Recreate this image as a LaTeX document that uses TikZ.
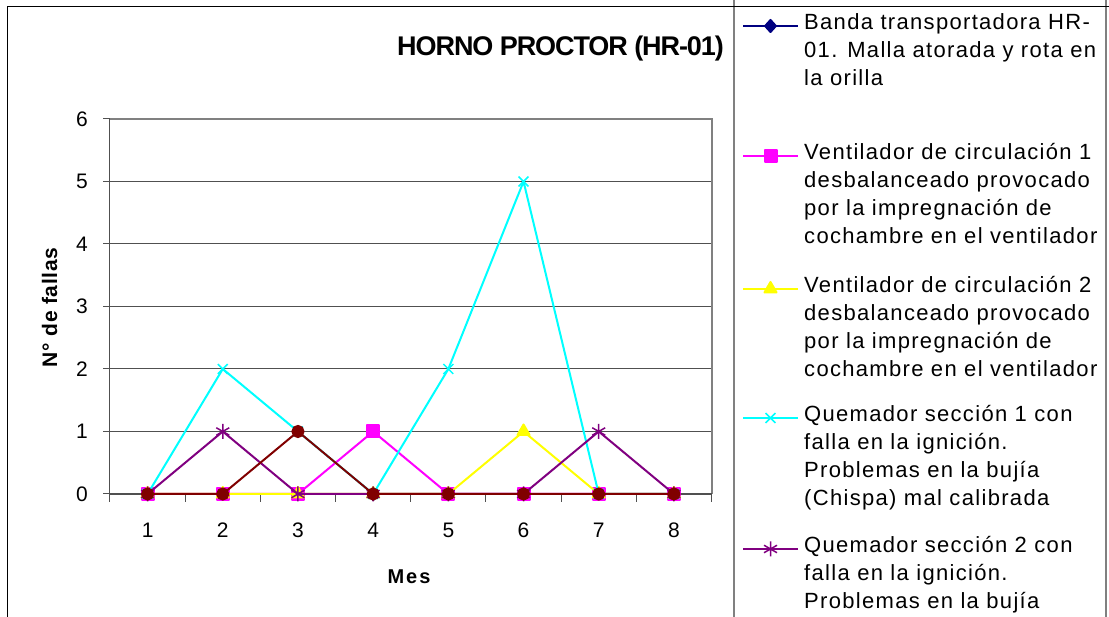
\documentclass[tikz,border=0pt]{standalone}
\usepackage{fontspec}
\setmainfont{Liberation Sans}[LetterSpace=10]
\newfontfamily\leyfont{Liberation Sans}[LetterSpace=6]
\newfontfamily\ejefont{Liberation Sans}[LetterSpace=3]
\newfontfamily\titlefont{Liberation Sans}[LetterSpace=-4]
\usetikzlibrary{plotmarks}
\definecolor{navy}{RGB}{0,0,128}
\definecolor{darkred}{RGB}{128,0,0}
\definecolor{purp}{RGB}{128,0,128}
\definecolor{fucsia}{RGB}{255,0,255}
\definecolor{amarillo}{RGB}{255,255,0}
\definecolor{turquesa}{RGB}{0,255,255}
\definecolor{gridgray}{RGB}{80,80,80}
\definecolor{boxgray}{RGB}{128,128,128}
\tikzset{
  serie/.style={line width=2pt, line join=round},
  banda/.style={serie, navy, mark=diamond*, mark size=6pt, mark options={xscale=1.2, fill=navy}},
  vent1/.style={serie, fucsia, mark=square*, mark size=6pt, mark options={fill=fucsia}},
  vent2/.style={serie, amarillo, mark=triangle*, mark size=7pt, mark options={fill=amarillo}},
  quem1/.style={serie, turquesa, mark=x, mark size=7pt, mark options={line width=1.5pt}},
  quem2/.style={serie, purp, mark=asterisk, mark size=7.5pt, mark options={line width=1.5pt}},
  otro/.style={serie, darkred, mark=*, mark size=5.6pt, mark options={fill=darkred}},
  leyenda/.style={anchor=base west, align=left, inner sep=0pt, font=\leyfont\fontsize{22}{28}\selectfont},
  etiq/.style={inner sep=0pt, font=\fontsize{21}{25}\selectfont}
}
\begin{document}
\begin{tikzpicture}[x=1pt,y=1pt]
\useasboundingbox (0,0) rectangle (1109,617);
\clip (0,0) rectangle (1109,617);
% legend frame
\draw[boxgray, line width=1.5pt] (734,640) -- (734,-20) (1106,640) -- (1106,-20);
% chart frame
\draw[black, line width=1pt] (7.3,-20) -- (7.3,610.3) -- (1130,610.3);
\node[anchor=base east, inner sep=0pt, font=\titlefont\bfseries\fontsize{27}{32}\selectfont] (titulo) at (724,561.5) {HORNO PROCTOR (HR-01)};
% plot area, one unit = one month / one failure
\begin{scope}[shift={(72.4,123)}, x=75.19pt, y=62.5pt]
\foreach \k in {1,...,5}
  \draw[gridgray, line width=1pt] (0.5,\k) -- (8.5,\k);
\draw[boxgray, line width=2pt] (0.5,6) -- (8.5,6) -- (8.5,0);
\draw[gridgray, line width=1pt] (0.5,0) -- (0.5,6);
\foreach \k in {0,...,6} {
  \draw[gridgray, line width=1pt] (0.5,\k) -- ++(-7pt,0);
  \node[etiq, anchor=east, xshift=-22pt] (y\k) at (0.5,\k) {\k};
}
\foreach \m in {0,...,8}
  \draw[gridgray, line width=1pt] (\m+0.5,0) -- ++(0,-8pt);
\foreach \m in {1,...,8}
  \node[etiq, yshift=-36pt] (x\m) at (\m,0) {\m};
\draw[gridgray, line width=2pt] (0.5,0) -- (8.5,0);
% series
\draw[banda] plot coordinates {(1,0) (2,0) (3,0) (4,0) (5,0) (6,0) (7,0) (8,0)};
\draw[vent1] plot coordinates {(1,0) (2,0) (3,0) (4,1) (5,0) (6,0) (7,0) (8,0)};
\draw[vent2] plot coordinates {(1,0) (2,0) (3,0) (4,0) (5,0) (6,1) (7,0) (8,0)};
\draw[quem1] plot coordinates {(1,0) (2,2) (3,1) (4,0) (5,2) (6,5) (7,0) (8,0)};
\draw[quem2] plot coordinates {(1,0) (2,1) (3,0) (4,0) (5,0) (6,0) (7,1) (8,0)};
\draw[otro] plot coordinates {(1,0) (2,0) (3,1) (4,0) (5,0) (6,0) (7,0) (8,0)};
\end{scope}
\node[rotate=90, inner sep=0pt, font=\ejefont\bfseries\fontsize{21}{25}\selectfont] (ytitulo) at (49.5,309.5) {N° de fallas};
\node[anchor=base, inner sep=0pt, font=\bfseries\fontsize{20}{24}\selectfont] (xtitulo) at (409,33) {Mes};
% legend (node base = baseline of last line)
\draw[banda] plot[mark indices={2}] coordinates {(743,591) (770.5,591) (798,591)};
\node[leyenda] (ley1) at (804,531.5) {Banda transportadora HR-\\01. Malla atorada y rota en\\la orilla};
\draw[vent1] plot[mark indices={2}] coordinates {(743,461) (770.5,461) (798,461)};
\node[leyenda] (ley2) at (804,373.5) {Ventilador de circulación 1\\desbalanceado provocado\\por la impregnación de\\cochambre en el ventilador};
\draw[vent2] plot[mark indices={2}] coordinates {(743,328) (770.5,328) (798,328)};
\node[leyenda] (ley3) at (804,240.5) {Ventilador de circulación 2\\desbalanceado provocado\\por la impregnación de\\cochambre en el ventilador};
\draw[quem1] plot[mark indices={2}] coordinates {(743,199) (770.5,199) (798,199)};
\node[leyenda] (ley4) at (804,111.5) {Quemador sección 1 con\\falla en la ignición.\\Problemas en la bujía\\(Chispa) mal calibrada};
\draw[quem2] plot[mark indices={2}] coordinates {(743,68) (770.5,68) (798,68)};
\node[leyenda] (ley5) at (804,8.5) {Quemador sección 2 con\\falla en la ignición.\\Problemas en la bujía};
\end{tikzpicture}
\end{document}
